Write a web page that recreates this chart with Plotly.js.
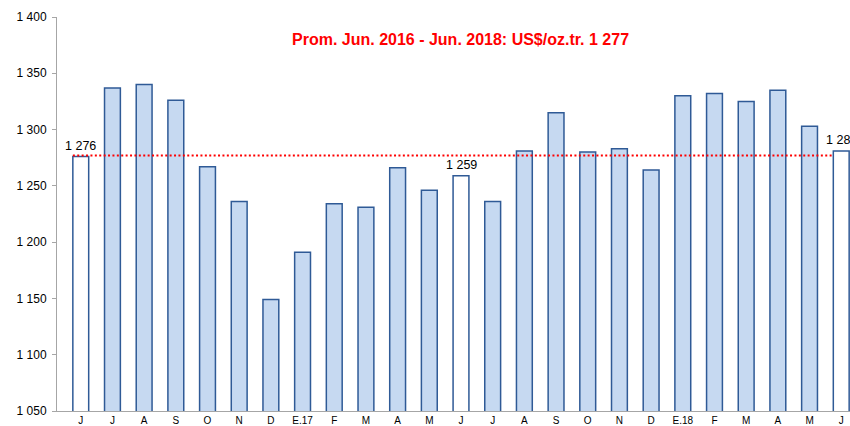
<!DOCTYPE html>
<html>
<head>
<meta charset="utf-8">
<script src="https://cdn.plot.ly/plotly-3.0.1.min.js"></script>
<style>
html,body{margin:0;padding:0;overflow:hidden;background:#fff;}
#chart{width:900px;height:426px;}
</style>
</head>
<body>
<div id="chart"></div>
<script>
var monthLabels = ['J','J','A','S','O','N','D','E.17','F','M','A','M','J','J','A','S','O','N','D','E.18','F','M','A','M','J'];
var prices = [1276,1337,1340,1326,1267,1236,1149,1191,1234,1231,1266,1246,1259,1236,1281,1315,1280,1283,1264,1330,1332,1325,1335,1303,1281];
var labelledIdx = [0,12,24];
var averagePrice = 1277;
var titleText = 'Prom. Jun. 2016 - Jun. 2018: US$/oz.tr. 1 277';
var yTicks = [1050,1100,1150,1200,1250,1300,1350,1400];

function fmt(v){ return String(v).replace(/(\d)(\d{3})$/, '$1 $2'); }

var xs = monthLabels.map(function(_, i){ return i; });
var fills = xs.map(function(i){ return labelledIdx.indexOf(i) >= 0 ? '#FFFFFF' : '#C6D9F1'; });

var bars = {
  type: 'bar',
  x: xs,
  y: prices,
  width: 0.5,
  marker: {color: fills, line: {color: '#2F5A96', width: 1.5}},
  hoverinfo: 'none',
  showlegend: false
};

var avgLine = {
  type: 'scatter',
  mode: 'lines',
  x: [xs[0] - 0.25, xs[xs.length - 1] - 0.25],
  y: [averagePrice, averagePrice],
  line: {color: '#FF0000', width: 2, dash: '2px,2.4px'},
  hoverinfo: 'none',
  showlegend: false
};

var annos = labelledIdx.map(function(i){
  return {
    xref: 'x', yref: 'y', x: xs[i], y: prices[i],
    xanchor: 'center', yanchor: 'bottom', yshift: 2,
    text: fmt(prices[i]), showarrow: false,
    font: {family: 'Liberation Sans, Arial, sans-serif', size: 12.5, color: '#000'}
  };
});
annos.push({
  xref: 'paper', yref: 'paper',
  x: 0.499, y: 0.942,
  xanchor: 'center', yanchor: 'middle',
  text: '<b>' + titleText + '</b>',
  showarrow: false,
  font: {family: 'Liberation Sans, Arial, sans-serif', size: 16, color: '#FF0000'}
});

var layout = {
  width: 900,
  height: 426,
  margin: {l: 57, r: 35, t: 17, b: 15},
  paper_bgcolor: '#fff',
  plot_bgcolor: '#fff',
  font: {family: 'Liberation Sans, Arial, sans-serif', color: '#000'},
  xaxis: {
    range: [-0.75, 24.75],
    tickvals: xs,
    ticktext: monthLabels,
    showline: true,
    linecolor: '#A6A6A6',
    linewidth: 1,
    showgrid: false,
    zeroline: false,
    ticks: '',
    tickfont: {size: 10, color: '#000'},
    fixedrange: true
  },
  yaxis: {
    range: [1050, 1400],
    tickvals: yTicks,
    ticktext: yTicks.map(fmt),
    showline: true,
    linecolor: '#A6A6A6',
    linewidth: 1,
    showgrid: false,
    zeroline: false,
    ticks: 'outside',
    ticklen: 4,
    tickcolor: '#A6A6A6',
    ticklabelstandoff: 3,
    tickfont: {size: 12, color: '#000'},
    fixedrange: true
  },
  annotations: annos,
  bargap: 0.5
};

Plotly.newPlot('chart', [bars, avgLine], layout, {staticPlot: true, displayModeBar: false});
</script>
</body>
</html>
